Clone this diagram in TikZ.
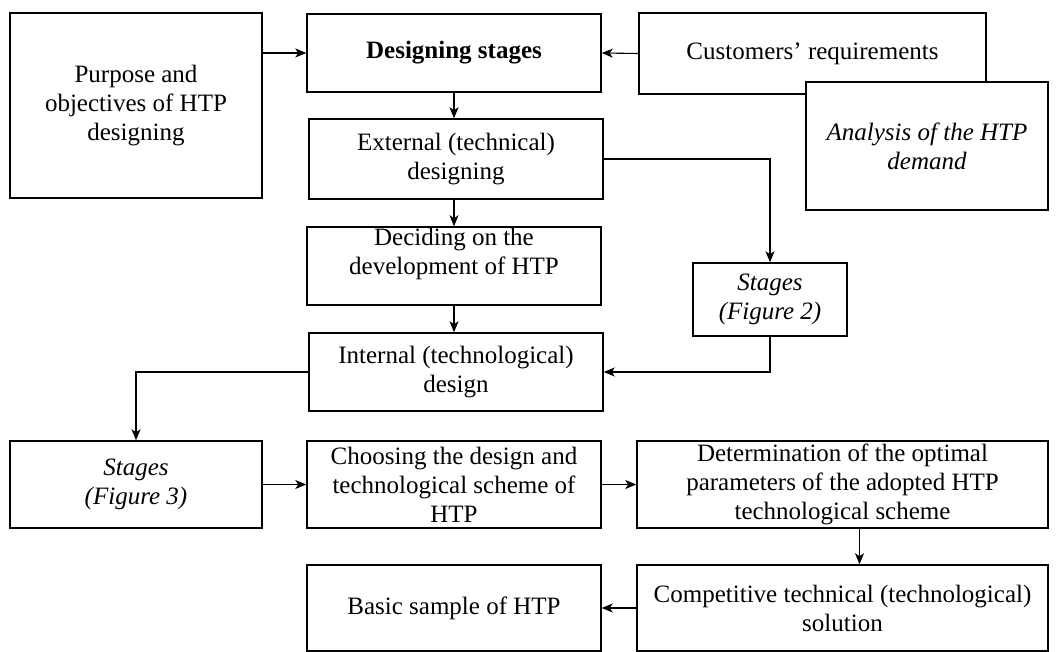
\documentclass[tikz,border=0pt]{standalone}
\usepackage{fontspec}
\setmainfont{Liberation Serif}
\usetikzlibrary{arrows.meta}

\begin{document}
\begin{tikzpicture}[x=1pt,y=-1pt,
    box/.style={draw, line width=1.5pt, fill=white, inner sep=0pt, align=center,
      font=\fontsize{25}{29}\selectfont},
    arr/.style={line width=1.1pt, -{Stealth[length=11pt,width=9pt,inset=3pt]}}]
      \useasboundingbox (0,0) rectangle (1060,652) ;
      % top row
      \node[box, minimum width=252pt, minimum height=185pt] (purp) at (136,105.5)
        {Purpose and\\objectives of HTP\\designing} ;
      \node[box, minimum width=294pt, minimum height=78pt] (dstage) at (454,53)
        {\bfseries Designing stages} ;
      \node[box, minimum width=347pt, minimum height=81pt] (cust) at (812.5,53.5)
        {Customers’ requirements} ;
      \node[box, minimum width=242pt, minimum height=128pt] (anal) at (927,146)
        {\itshape Analysis of the HTP\\\itshape demand} ;
      % middle column
      \node[box, minimum width=294pt, minimum height=80pt] (ext) at (456,159)
        {External (technical)\\designing} ;
      \node[box, minimum width=294pt, minimum height=78pt] (dec) at (454,266)
        {Deciding on the\\development of HTP\\[-8pt]\strut} ;
      \node[box, minimum width=154pt, minimum height=73pt] (st2) at (770,299.5)
        {\itshape Stages\\\itshape (Figure 2)} ;
      \node[box, minimum width=294pt, minimum height=78pt] (int) at (456,372)
        {Internal (technological)\\design} ;
      % lower rows
      \node[box, minimum width=252pt, minimum height=87pt] (st3) at (136,484.5)
        {\itshape Stages\\\itshape (Figure 3)} ;
      \node[box, minimum width=294pt, minimum height=87pt] (cho) at (454,484.5)
        {Choosing the design and\\technological scheme of\\HTP} ;
      \node[box, minimum width=411pt, minimum height=87pt] (det) at (842.5,484.5)
        {Determination of the optimal\\parameters of the adopted HTP\\technological scheme} ;
      \node[box, minimum width=294pt, minimum height=86pt] (basic) at (454,608)
        {Basic sample of HTP} ;
      \node[box, minimum width=411pt, minimum height=86pt] (comp) at (842.5,608)
        {Competitive technical (technological)\\solution} ;
      % connectors
      \draw[arr] (purp.east |- dstage.west) -- (dstage.west) ;
      \draw[arr] (cust.west) -- (dstage.east) ;
      \draw[arr] (dstage.south) -- (dstage.south |- ext.north) ;
      \draw[arr] (dec.north |- ext.south) -- (dec.north) ;
      \draw[arr] (dec.south) -- (dec.south |- int.north) ;
      \draw[arr] (ext.east) -| (st2.north) ;
      \draw[arr] (st2.south) |- (int.east) ;
      \draw[arr] (int.west) -| (st3.north) ;
      \draw[arr] (st3.east) -- (cho.west) ;
      \draw[arr] (cho.east) -- (det.west) ;
      \draw[arr] ([xshift=17pt]det.south) -- ([xshift=17pt]comp.north) ;
      \draw[arr] (comp.west) -- (basic.east) ;
    \end{tikzpicture}
\end{document}
